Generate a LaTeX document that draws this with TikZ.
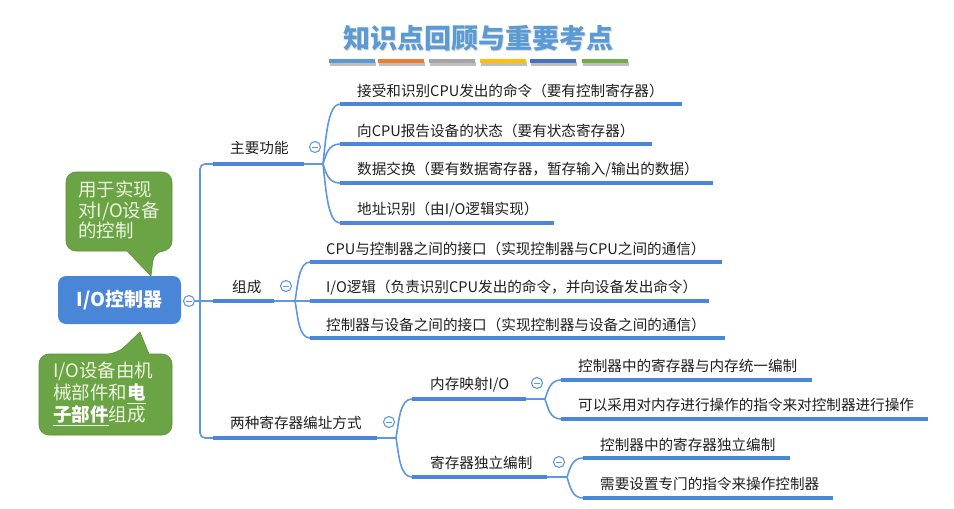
\documentclass[tikz,border=0pt]{standalone}
\usepackage{fontspec}
\setmainfont{Noto Sans CJK SC}
\definecolor{ublue}{HTML}{4A86D9}
\definecolor{cblue}{HTML}{5E97E2}
\definecolor{rootblue}{HTML}{4A86D8}
\definecolor{titleblue}{HTML}{5B9BD5}
\definecolor{cgreen}{HTML}{6AA444}
\definecolor{cgreenD}{HTML}{5A8F38}
\definecolor{ctextc}{HTML}{EEF4E2}
\definecolor{barA}{HTML}{5B9BD5}
\definecolor{barB}{HTML}{ED7D31}
\definecolor{barC}{HTML}{A5A5A5}
\definecolor{barD}{HTML}{FFC000}
\definecolor{barE}{HTML}{4472C4}
\definecolor{barF}{HTML}{70AD47}
\begin{document}
\begin{tikzpicture}[x=1pt,y=-1pt,
  uline/.style={ublue, line width=4pt},
  conn/.style={cblue, line width=1.6pt},
  topic/.style={anchor=west, inner sep=0pt, font=\fontsize{14.6}{17}\selectfont, text=black!88},
  btn/.style={circle, draw=cblue, fill=white, line width=1.1pt, minimum size=11pt, inner sep=0pt,
    path picture={\draw[cblue, line width=1pt] ([xshift=-2.6pt]path picture bounding box.center) -- ([xshift=2.6pt]path picture bounding box.center);}},
  rootbox/.style={rounded corners=8pt, fill=rootblue, minimum width=123pt, minimum height=48pt, text=white, font=\fontsize{19}{22}\selectfont\bfseries, inner sep=0pt},
  callout/.style={fill=cgreen, draw=cgreenD, line width=0.6pt},
  calltext/.style={anchor=north west, inner sep=0pt, align=left, text=ctextc},
  bar/.style={line width=4pt},
  barshadow/.style={line width=4pt, black!25}
]
\useasboundingbox (0,0) rectangle (954,509);
\fill[white] (0,0) rectangle (954,509);

% title
\node[font=\fontsize{27}{30}\selectfont\bfseries, text=black!15] at (479.3,39.5) {知识点回顾与重要考点};
\node[font=\fontsize{27}{30}\selectfont\bfseries, text=titleblue] (title) at (478,38) {知识点回顾与重要考点};
\foreach \a/\b/\c in {329/375/barA, 378/424/barB, 429/475/barC, 480/526/barD, 530/576/barE, 582/628/barF}{
  \draw[barshadow] (\a+1,63.5) -- (\b+1,63.5);
  \draw[bar, \c] (\a,61) -- (\b,61);
}

% callouts
\path[callout] (66,212) [rounded corners=10pt] -- (66,172) -- (172,172) -- (172,251) -- (154,251) [sharp corners] -- (151,276) -- (127,251) [rounded corners=10pt] -- (66,251) -- cycle;
\node[calltext, font=\fontsize{18.5}{20.5}\selectfont] (call1) at (78,181) {用于实现\\对I/O设备\\的控制};
\path[callout] (39,394) [rounded corners=10pt] -- (39,354) -- (117,354) [sharp corners] -- (140,332) -- (149,354) [rounded corners=10pt] -- (172,354) -- (172,435) -- (39,435) -- cycle;
\node[calltext, font=\fontsize{18.5}{22}\selectfont] (call2) at (53,362) {I/O设备由机\\械部件和\underline{\textbf{\color{white}电}}\\\underline{\textbf{\color{white}子部件}}组成};

% coordinates
\coordinate (trunkTop) at (200,164);
\coordinate (trunkBot) at (200,438);
\coordinate (a1s) at (213,164); \coordinate (a1e) at (304,164); \coordinate (s1) at (323,164);
\coordinate (a2s) at (213,301); \coordinate (a2e) at (274,301); \coordinate (s2) at (295,301);
\coordinate (a3s) at (213,438); \coordinate (a3e) at (377,438); \coordinate (s3) at (396,438);
\coordinate (c1s) at (340,104); \coordinate (c1e) at (682,104);
\coordinate (c2s) at (340,144); \coordinate (c2e) at (652,144);
\coordinate (c3s) at (340,183); \coordinate (c3e) at (713,183);
\coordinate (c4s) at (340,223); \coordinate (c4e) at (554,223);
\coordinate (d1s) at (310,262); \coordinate (d1e) at (722,262);
\coordinate (d2s) at (310,301); \coordinate (d2e) at (709,301);
\coordinate (d3s) at (310,338); \coordinate (d3e) at (725,338);
\coordinate (e1s) at (412,399); \coordinate (e1e) at (526,399); \coordinate (s4) at (545,399);
\coordinate (e2s) at (412,477); \coordinate (e2e) at (547,477); \coordinate (s5) at (567,477);
\coordinate (f1s) at (561,380); \coordinate (f1e) at (812,380);
\coordinate (f2s) at (561,419); \coordinate (f2e) at (928,419);
\coordinate (g1s) at (583,458); \coordinate (g1e) at (790,458);
\coordinate (g2s) at (583,498); \coordinate (g2e) at (833,498);
\coordinate (b0c) at (189,301);

% root
\node[rootbox] (root) at (119.5,300) {I/O控制器};

% trunk
\draw[conn, rounded corners=5pt] (a1s) -- (trunkTop) -- (trunkBot) -- (a3s);
\draw[conn] (b0c) -- (a2s);

% level-1 connectors
\draw[conn] (a1e) -- (s1);
\draw[conn] (a2e) -- (s2);
\draw[conn] (a3e) -- (s3);
\draw[conn] (s1) .. controls +(3,-27) and +(-12,0) .. (c1s);
\draw[conn] (s1) .. controls +(3,-9) and +(-12,0) .. (c2s);
\draw[conn] (s1) .. controls +(3,8.5) and +(-12,0) .. (c3s);
\draw[conn] (s1) .. controls +(3,26.5) and +(-12,0) .. (c4s);
\draw[conn] (s2) .. controls +(3,-17.5) and +(-11,0) .. (d1s);
\draw[conn] (s2) -- (d2s);
\draw[conn] (s2) .. controls +(3,16.5) and +(-11,0) .. (d3s);
\draw[conn] (s3) .. controls +(3,-17.5) and +(-12,0) .. (e1s);
\draw[conn] (s3) .. controls +(3,17.5) and +(-12,0) .. (e2s);
\draw[conn] (e1e) -- (s4);
\draw[conn] (e2e) -- (s5);
\draw[conn] (s4) .. controls +(3,-8.5) and +(-11,0) .. (f1s);
\draw[conn] (s4) .. controls +(3,9) and +(-11,0) .. (f2s);
\draw[conn] (s5) .. controls +(3,-8.5) and +(-11,0) .. (g1s);
\draw[conn] (s5) .. controls +(3,9.5) and +(-11,0) .. (g2s);

% underlines
\foreach \n in {a1,a2,a3,c1,c2,c3,c4,d1,d2,d3,e1,e2,f1,f2,g1,g2}{
  \draw[uline] (\n s) -- (\n e);
}

% texts
\node[topic] (a1) at (230,148) {主要功能};
\node[topic] (a2) at (232,287) {组成};
\node[topic] (a3) at (230,423) {两种寄存器编址方式};
\node[topic] (c1) at (357,91) {接受和识别CPU发出的命令（要有控制寄存器）};
\node[topic] (c2) at (357,131) {向CPU报告设备的状态（要有状态寄存器）};
\node[topic] (c3) at (357,170) {数据交换（要有数据寄存器，暂存输入/输出的数据）};
\node[topic] (c4) at (357,210) {地址识别（由I/O逻辑实现）};
\node[topic] (d1) at (326,249) {CPU与控制器之间的接口（实现控制器与CPU之间的通信）};
\node[topic] (d2) at (326,288) {I/O逻辑（负责识别CPU发出的命令，并向设备发出命令）};
\node[topic] (d3) at (326,325) {控制器与设备之间的接口（实现控制器与设备之间的通信）};
\node[topic] (e1) at (430,385) {内存映射I/O};
\node[topic] (e2) at (430,463) {寄存器独立编制};
\node[topic] (f1) at (578,366) {控制器中的寄存器与内存统一编制};
\node[topic] (f2) at (578,405) {可以采用对内存进行操作的指令来对控制器进行操作};
\node[topic] (g1) at (600,445) {控制器中的寄存器独立编制};
\node[topic] (g2) at (600,484) {需要设置专门的指令来操作控制器};

% collapse buttons
\node[btn] (b0) at (b0c) {};
\node[btn] (b1) at (315,147) {};
\node[btn] (b2) at (286,286) {};
\node[btn] (b3) at (389,422) {};
\node[btn] (b4) at (537,383) {};
\node[btn] (b5) at (559,462) {};
\end{tikzpicture}
\end{document}
